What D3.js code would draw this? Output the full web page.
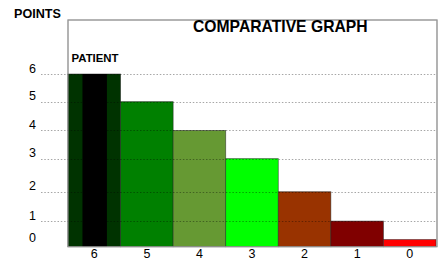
<!DOCTYPE html>
<html><head><meta charset="utf-8">
<script src="https://cdn.jsdelivr.net/npm/d3@7"></script>
<style>body{margin:0;background:#fff}svg{display:block;font-family:"Liberation Sans",Arial,sans-serif}</style>
</head><body>
<svg id="c" width="438" height="271"></svg>
<script>
const categories = ["6","5","4","3","2","1","0"];
const values = [6, 5.04, 4.04, 3.06, 1.91, 0.89, 0.25];
const colors = ["#003300","#008000","#669933","#00ff00","#993300","#800000","#ff0000"];
const tickLabels = ["0","1","2","3","4","5","6"];
const tickAt = [0.1, 0.89, 1.91, 3.06, 4.04, 5.04, 6];
const gridAt = [0.89, 1.91, 3.06, 4.04, 5.04, 6];

const svg = d3.select("#c");
const L = 68, R = 437, T = 20, B = 246.7;
const x = d3.scaleBand().domain(categories).range([L, R - 1]).padding(0);
const y = d3.scaleLinear().domain([0, 6]).range([B, 74]);

svg.append("rect").attr("x", L).attr("y", T).attr("width", R - L).attr("height", B - T)
  .attr("fill", "#fff").attr("stroke", "#999").attr("stroke-width", 1);

svg.selectAll("rect.bar").data(values).enter().append("rect").attr("class","bar")
  .attr("x", (d,i) => x(categories[i]))
  .attr("y", d => y(d))
  .attr("width", x.bandwidth())
  .attr("height", d => B - y(d))
  .attr("fill", (d,i) => colors[i])
  .attr("stroke", "#222").attr("stroke-opacity", 0.6).attr("stroke-width", 0.8);

svg.append("rect")
  .attr("x", x("6") + x.bandwidth() * 0.275)
  .attr("y", y(values[0]))
  .attr("width", x.bandwidth() * 0.465)
  .attr("height", B - y(values[0]))
  .attr("fill", "#000");

svg.selectAll("line.grid").data(gridAt).enter().append("line").attr("class","grid")
  .attr("x1", 41).attr("x2", R)
  .attr("y1", d => Math.round(y(d)) + 0.5).attr("y2", d => Math.round(y(d)) + 0.5)
  .attr("stroke", "#000").attr("stroke-opacity", 0.35).attr("stroke-width", 1)
  .attr("stroke-dasharray", "1.5,1.8");

svg.append("rect").attr("x", L).attr("y", T).attr("width", R - L).attr("height", B - T)
  .attr("fill", "none").attr("stroke", "#999").attr("stroke-width", 1);

svg.selectAll("text.yt").data(tickLabels).enter().append("text").attr("class","yt")
  .attr("x", 36).attr("y", (d,i) => y(tickAt[i]) - 1.5)
  .attr("text-anchor", "end").attr("font-size", "12.5px").attr("fill", "#000")
  .text(d => d);

svg.selectAll("text.xt").data(categories).enter().append("text").attr("class","xt")
  .attr("x", d => x(d) + x.bandwidth() / 2).attr("y", 258)
  .attr("text-anchor", "middle").attr("font-size", "12.5px").attr("fill", "#000")
  .text(d => d);

svg.append("text").attr("x", 14).attr("y", 18).attr("font-size", "12.6px")
  .attr("font-weight", "bold").text("POINTS");
svg.append("text").attr("x", 71.5).attr("y", 62).attr("font-size", "11.4px")
  .attr("font-weight", "bold").text("PATIENT");
svg.append("text").attr("x", 193).attr("y", 31.5).attr("font-size", "15.7px")
  .attr("font-weight", "bold").text("COMPARATIVE GRAPH");
</script>
</body></html>
